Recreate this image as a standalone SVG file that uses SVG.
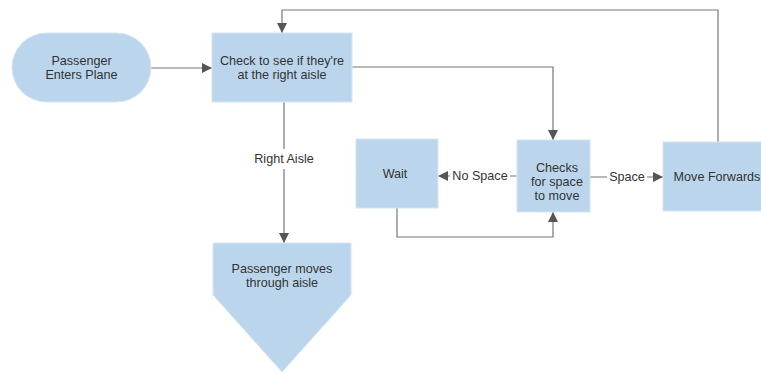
<svg xmlns="http://www.w3.org/2000/svg" width="761" height="374" viewBox="0 0 761 374">
<defs>
<style>
.n{fill:#bbd6ec;stroke:#d6e6f4;stroke-width:1}
.t{font-family:"Liberation Sans",Arial,sans-serif;font-size:12.6px;fill:#333;text-anchor:middle}
.c{fill:none;stroke:#777;stroke-width:1.2}
.l{font-family:"Liberation Sans",Arial,sans-serif;font-size:12.6px;fill:#333;text-anchor:middle}
</style>
<marker id="a" viewBox="0 0 10 10" refX="10" refY="5" markerWidth="10" markerHeight="10" markerUnits="userSpaceOnUse" orient="auto">
<path d="M0,0 L10,5 L0,10 z" fill="#555"/>
</marker>
</defs>
<rect width="761" height="374" fill="#fff"/>
<g id="connectors">
<path class="c" d="M151,68 H212" marker-end="url(#a)"/>
<path class="c" d="M718,142 V10 H282 V33" marker-end="url(#a)"/>
<path class="c" d="M352,67 H553 V140" marker-end="url(#a)"/>
<path class="c" d="M284,102 V149 M284,169 V243" marker-end="url(#a)"/>
<text class="l" x="284" y="163">Right Aisle</text>
<path class="c" d="M517,176 H510 M450,176 H438" marker-end="url(#a)"/>
<text class="l" x="480" y="180">No Space</text>
<path class="c" d="M590,177 H607 M647,177 H663" marker-end="url(#a)"/>
<text class="l" x="627" y="181">Space</text>
<path class="c" d="M397,208 V237 H553 V212" marker-end="url(#a)"/>
</g>
<g id="start">
<rect class="n" x="12" y="33" width="139" height="69" rx="34.5"/>
<text class="t" x="81.5" y="65">Passenger</text>
<text class="t" x="81.5" y="79">Enters Plane</text>
</g>
<g id="check">
<rect class="n" x="212" y="33" width="140" height="69"/>
<text class="t" x="282" y="65">Check to see if they're</text>
<text class="t" x="282" y="79">at the right aisle</text>
</g>
<g id="wait">
<rect class="n" x="356" y="139" width="82" height="69"/>
<text class="t" x="395" y="178">Wait</text>
</g>
<g id="checks">
<rect class="n" x="517" y="140" width="73" height="72"/>
<text class="t" x="557" y="172">Checks</text>
<text class="t" x="557" y="186">for space</text>
<text class="t" x="557" y="200">to move</text>
</g>
<g id="move">
<rect class="n" x="663" y="142" width="110" height="69"/>
<text class="t" x="717" y="181">Move Forwards</text>
</g>
<g id="aisle">
<path class="n" d="M213,243 H351 V295 L282,372 L213,295 Z"/>
<text class="t" x="282" y="273">Passenger moves</text>
<text class="t" x="282" y="287">through aisle</text>
</g>
</svg>
